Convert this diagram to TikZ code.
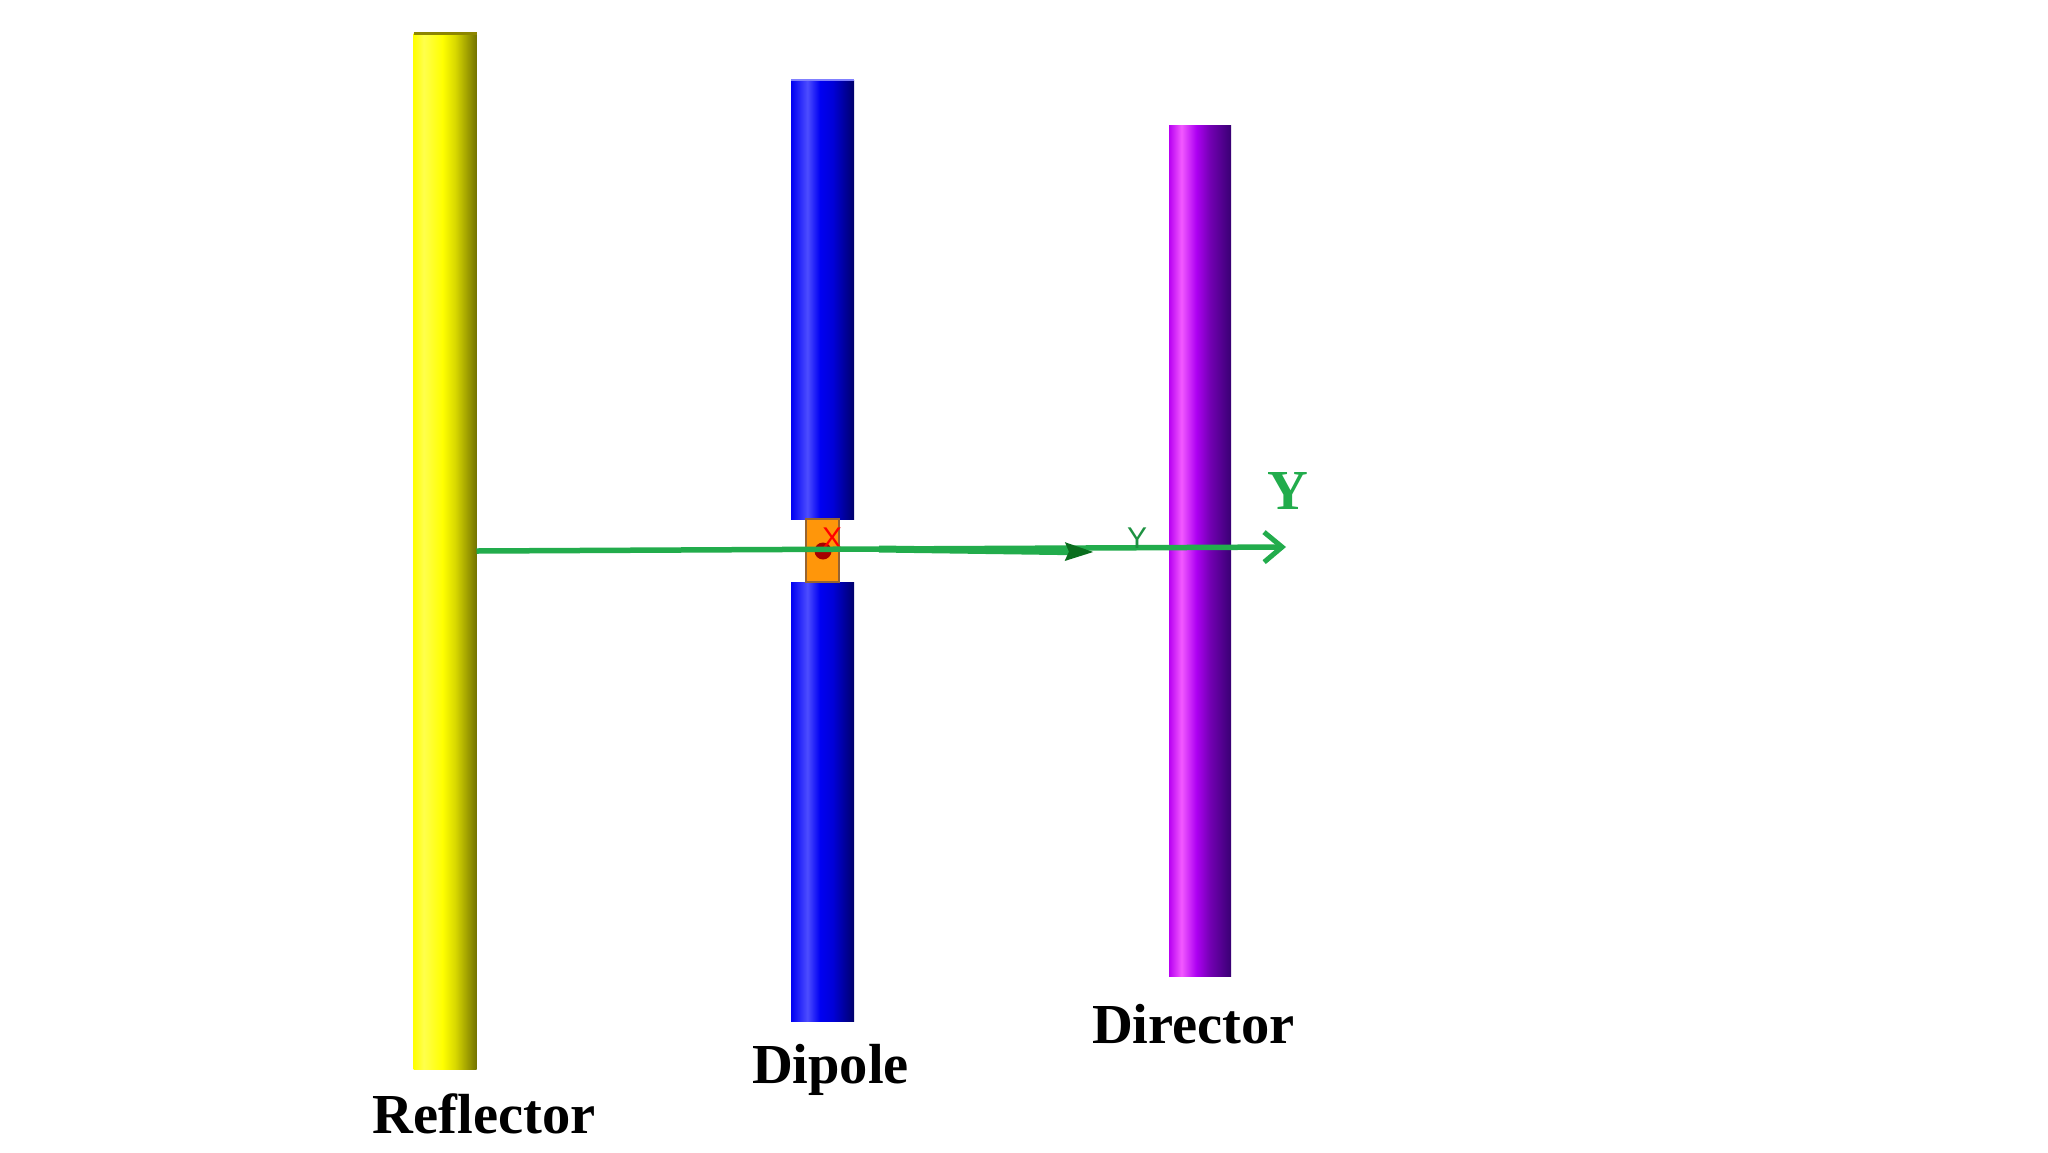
\documentclass[tikz,border=0pt]{standalone}
\usepackage{fontspec}
\setmainfont{Liberation Serif}
\setsansfont{Liberation Sans}
\usetikzlibrary{arrows.meta}
\definecolor{axisgreen}{RGB}{34,172,76}
\definecolor{tipgreen}{RGB}{10,110,30}
\definecolor{feedorange}{RGB}{255,150,10}
\definecolor{feedbrown}{RGB}{150,100,50}
\pgfdeclarehorizontalshading{reflectorshade}{100bp}{
	rgb(0bp)=(1,1,0); rgb(25bp)=(1,1,0); rgb(33bp)=(1,1,.3); rgb(48bp)=(1,1,0);
	rgb(58bp)=(.85,.85,0); rgb(75bp)=(.45,.45,0); rgb(100bp)=(.45,.45,0)}
\pgfdeclarehorizontalshading{dipoleshade}{100bp}{
	rgb(0bp)=(0,0,.95); rgb(25bp)=(0,0,.95); rgb(38bp)=(.3,.3,1); rgb(48bp)=(0,0,.95);
	rgb(58bp)=(0,0,.85); rgb(75bp)=(0,0,.42); rgb(100bp)=(0,0,.42)}
\pgfdeclarehorizontalshading{directorshade}{100bp}{
	rgb(0bp)=(.72,0,.95); rgb(25bp)=(.72,0,.95); rgb(35bp)=(.95,.35,1); rgb(47bp)=(.68,0,.95);
	rgb(58bp)=(.45,0,.7); rgb(75bp)=(.22,0,.45); rgb(100bp)=(.22,0,.45)}
\begin{document}
\begin{tikzpicture}
		[x=1pt,y=-1pt,
		every node/.style={inner sep=0pt,outer sep=0pt},
		rod/.style={minimum width=63pt},
		rodlabel/.style={anchor=base,font=\fontsize{56.5}{56}\selectfont\bfseries},
		axisline/.style={draw=axisgreen,line width=5.5pt},
		smalllabel/.style={font=\fontsize{30}{30}\selectfont\sffamily}]
		\useasboundingbox (0,0) rectangle (2048,1152);
		\fill[white] (0,0) rectangle (2048,1152);
		\node[rod,shade,shading=reflectorshade,minimum height=1036pt] (reflector) at (445,551) {};
		\node[rod,shade,shading=dipoleshade,minimum height=439pt] (dipoleup) at (822.5,299.5) {};
		\node[rod,shade,shading=dipoleshade,minimum height=439pt] (dipolelow) at (822.5,801.5) {};
		\node[rod,shade,shading=directorshade,minimum width=62pt,minimum height=851pt] (director) at (1200,550.5) {};
		\node[draw=feedbrown,line width=1.5pt,fill=feedorange,minimum width=33pt,minimum height=63pt] (feed) at (822.5,550.5) {};
		\node[circle,fill=red!65!black,minimum size=17pt] (origin) at (823,551) {};
		\node[smalllabel,text=red] (xlabel) at (832,538) {X};
		\draw[olive,line width=3pt] (reflector.north west) -- (reflector.north east);
		\draw[blue!50,line width=2pt] (dipoleup.north west) -- (dipoleup.north east);
		\coordinate (axisend) at (1286,547);
		\coordinate (thickstart) at (879,549);
		\coordinate (thickend) at (1094,552);
		\draw[axisline,-{Straight Barb[length=18pt,width=30pt,line width=5pt]}] (reflector.east) -- (axisend);
		\draw[draw=axisgreen,line width=7pt,-{Stealth[length=28pt,width=17pt,inset=3pt,color=tipgreen]}] (thickstart) -- (thickend);
		\node[smalllabel,text=axisgreen!85!black] (ylabel) at (1137,538) {Y};
		\node[rodlabel,text=axisgreen] (yaxis) at (1288,509) {Y};
		\node[rodlabel] (reflectorname) at (484,1133) {Reflector};
		\node[rodlabel] (dipolename) at (830.5,1083) {Dipole};
		\node[rodlabel] (directorname) at (1193.5,1043) {Director};
\end{tikzpicture}
\end{document}
